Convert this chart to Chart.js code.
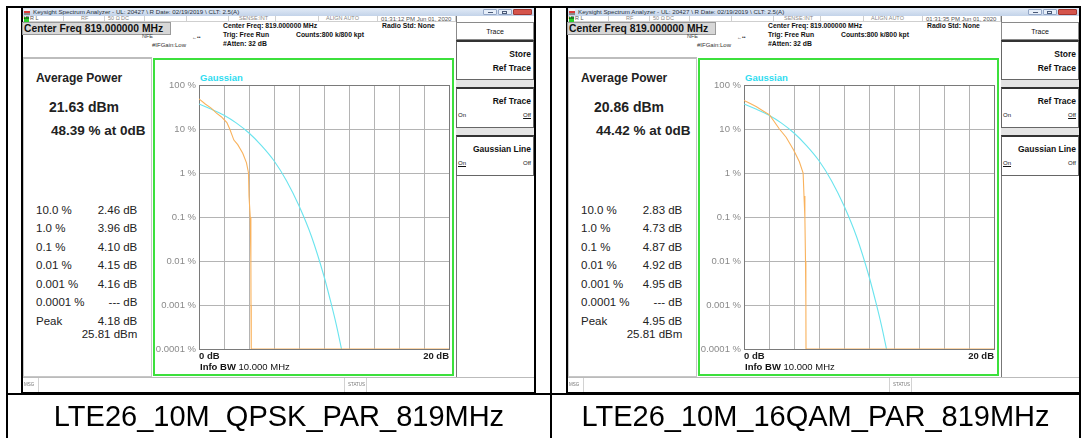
<!DOCTYPE html>
<html>
<head>
<meta charset="utf-8">
<title>CCDF</title>
<script src="https://cdn.jsdelivr.net/npm/chart.js@4.4.1/dist/chart.umd.min.js"></script>
<style>
  html, body { margin: 0; padding: 0; }
  body { width: 1088px; height: 438px; overflow: hidden; background: #fff; position: relative;
         font-family: "Liberation Sans", Arial, sans-serif; color: #111; }
  .t { position: absolute; white-space: nowrap; line-height: 1; }
  .box { position: absolute; box-sizing: border-box; }
  .shot { position: absolute; top: 0; width: 515px; height: 395px; }
  .plot { position: absolute; left: 135px; top: 60px; width: 295px; height: 315px; }
  .cap { position: absolute; top: 395px; height: 42px; font-size: 29px; display: flex;
         align-items: center; justify-content: center; color: #000; }
</style>
</head>
<body>
<script>
// captions under each screenshot
const captions = ['LTE26_10M_QPSK_PAR_819MHz', 'LTE26_10M_16QAM_PAR_819MHz'];
const timestamps = ['01:31:12 PM Jun 01, 2020', '01:31:35 PM Jun 01, 2020'];

// readouts on the left panel
const avgPower = ['21.63 dBm', '20.86 dBm'];
const pctAtZero = ['48.39 % at 0dB', '44.42 % at 0dB'];
const levelLabels = ['10.0 %', '1.0 %', '0.1 %', '0.01 %', '0.001 %', '0.0001 %'];
const qpskLevels = ['2.46 dB', '3.96 dB', '4.10 dB', '4.15 dB', '4.16 dB', '--- dB'];
const qamLevels = ['2.83 dB', '4.73 dB', '4.87 dB', '4.92 dB', '4.95 dB', '--- dB'];
const peakDb = ['4.18 dB', '4.95 dB'];
const peakDbm = ['25.81 dBm', '25.81 dBm'];

// axis ticks
const yTickValues = [0.0001, 0.001, 0.01, 0.1, 1, 10, 100];
const yTickLabels = ['0.0001 %', '0.001 %', '0.01 %', '0.1 %', '1 %', '10 %', '100 %'];

// traces (x in dB above average, y in %)
const gaussDb  = [0, 1, 2, 3, 4, 5, 6, 7, 8, 9, 10, 10.5, 11, 11.4];
const gaussPct = [37, 28, 20.5, 13.6, 8.1, 4.2, 1.9, 0.67, 0.18, 0.036, 0.0045, 0.0013, 0.00034, 0.0001];

const qpskDb  = [0, 0.5, 1.0, 1.4, 1.78, 2.23, 2.46, 2.79, 3.1, 3.5, 3.8, 3.96, 4.0, 4.10, 4.15, 4.16, 4.18, 20];
const qpskPct = [48.4, 37, 29.5, 23, 19, 14, 10, 5.6, 4.4, 2.8, 1.7, 1.0, 0.3, 0.1, 0.01, 0.001, 0.0001, 0.0001];

const qamDb  = [0, 0.5, 1.0, 1.5, 2.04, 2.4, 2.83, 3.37, 3.98, 4.43, 4.73, 4.80, 4.87, 4.92, 4.95, 4.96, 20];
const qamPct = [44.4, 38, 32, 26, 21, 15, 10, 6.5, 3.3, 1.8, 1.0, 0.3, 0.1, 0.01, 0.001, 0.0001, 0.0001];

const traceDb = [qpskDb, qamDb];
const tracePct = [qpskPct, qamPct];
const levelValues = [qpskLevels, qamLevels];

const shotLeft = [21, 566];
const orange = '#f9b25c';
const cyan = '#6ae4ee';

function T(x, y, s, css, a) {
  const tx = a === 'r' ? '-100%' : a === 'c' ? '-50%' : '0';
  return '<div class="t" style="left:' + x + 'px;top:' + y + 'px;transform:translate(' + tx + ',-50%);' + (css || '') + '">' + s + '</div>';
}
function B(x, y, w, h, css) {
  return '<div class="box" style="left:' + x + 'px;top:' + y + 'px;width:' + w + 'px;height:' + h + 'px;' + (css || '') + '"></div>';
}

function buildShot(i) {
  let h = '';
  h += B(0, 6, 515, 388, 'border:2px solid #000;background:#fff');
  // title bar
  h += B(2, 8, 511, 8, 'background:linear-gradient(#e2ebf7,#c3d3e9)');
  h += B(3, 9, 6, 6, 'background:linear-gradient(#f4f4f4 0 35%,#d83a3a 35% 70%,#8a8a8a 70%)');
  h += T(12, 12.2, 'Keysight Spectrum Analyzer - UL: 20427 \\ R Date: 02/19/2019 \\ CLT: 2.5(A)', 'font-size:6.2px;color:#2a3340');
  h += B(462, 9, 14, 6, 'background:#e6eef9;border:1px solid #93a6c6;border-radius:1px');
  h += B(467, 12, 5, 1, 'background:#4a5a78');
  h += B(477, 9, 14, 6, 'background:#e6eef9;border:1px solid #93a6c6;border-radius:1px');
  h += B(481, 10.5, 5, 3, 'border:1px solid #4a5a78');
  h += B(492, 9, 19, 6, 'background:#d5544c;border:1px solid #a03530;border-radius:1px');
  // status row
  h += B(2, 16, 433, 6, 'background:#fff;border-bottom:1px solid #cfcfcf');
  h += B(2.5, 16.5, 5, 5, 'background:#28d028');
  h += T(2.8, 19.2, 'LXI', 'font-size:3.3px;font-weight:bold');
  h += T(9, 19.2, 'R L', 'font-size:5.5px;color:#555');
  h += T(60, 19.2, 'RF', 'font-size:5.5px;color:#888');
  h += T(87, 19.2, '50 &Omega;', 'font-size:5.5px;color:#888');
  h += T(100, 19.2, 'DC', 'font-size:5.5px;color:#888');
  h += T(218, 19.2, 'SENSE:INT', 'font-size:5.5px;color:#888');
  h += T(305, 19.2, 'ALIGN AUTO', 'font-size:5.5px;color:#888');
  h += T(360, 19.2, timestamps[i], 'font-size:6px;color:#555');
  [42, 83, 123, 165, 207, 254, 297, 356, 434].forEach(function (x) { h += B(x, 16, 1, 6, 'background:#cfcfcf'); });
  // measurement header
  h += B(1, 22, 149, 13, 'background:#d7d7d7;border:1px solid #9a9a9a');
  h += T(3, 28.5, 'Center Freq 819.000000 MHz', 'font-size:10.3px;font-weight:bold');
  h += T(202, 26.3, 'Center Freq: 819.000000 MHz', 'font-size:6.8px;font-weight:bold');
  h += T(361, 26.3, 'Radio Std: None', 'font-size:6.8px;font-weight:bold');
  h += T(202, 35, 'Trig: Free Run', 'font-size:6.8px;font-weight:bold');
  h += T(275, 35, 'Counts:800 k/800 kpt', 'font-size:6.8px;font-weight:bold');
  h += T(202, 43.5, '#Atten: 32 dB', 'font-size:6.8px;font-weight:bold');
  h += T(121, 37, 'NFE', 'font-size:5.5px;color:#444');
  h += T(171, 37, '&#8592;&#8226;&#8226;', 'font-size:5px;color:#333');
  h += T(131, 44.5, '#IFGain:Low', 'font-size:6px;color:#333');
  // softkeys
  h += B(435, 16, 78, 362, 'background:#fff;border-left:1px solid #777;border-bottom:1px solid #999');
  h += B(435, 22, 78, 18, 'border:1px solid #8a8a8a;background:#fff');
  h += T(474, 30.5, 'Trace', 'font-size:7px', 'c');
  h += B(435, 40, 78, 40, 'border:1px solid #666;border-top:2px solid #333;background:#fff');
  h += T(510, 54.3, 'Store', 'font-size:8.5px;font-weight:bold', 'r');
  h += T(510, 67.7, 'Ref Trace', 'font-size:8.5px;font-weight:bold', 'r');
  h += B(435, 80, 78, 7, 'background:#e4e4e4');
  h += B(435, 87, 78, 41, 'border:1px solid #666;border-top:2px solid #333;background:#fff');
  h += T(510, 101, 'Ref Trace', 'font-size:8.5px;font-weight:bold', 'r');
  h += T(437, 115, 'On', 'font-size:6px');
  h += T(510, 115, '<u>Off</u>', 'font-size:6px', 'r');
  h += B(435, 128, 78, 7, 'background:#e4e4e4');
  h += B(435, 135, 78, 41, 'border:1px solid #666;border-top:2px solid #333;background:#fff');
  h += T(510, 149, 'Gaussian Line', 'font-size:8.5px;font-weight:bold', 'r');
  h += T(437, 162.7, '<u>On</u>', 'font-size:6px');
  h += T(510, 162.7, 'Off', 'font-size:6px', 'r');
  // left readout panel
  h += B(1.5, 57, 129, 320, 'border:1px solid #c6c6c6;border-top:2px solid #bdbdbd');
  h += T(15, 77.7, 'Average Power', 'font-size:12px;font-weight:bold;color:#222');
  h += T(28, 107, avgPower[i], 'font-size:14px;font-weight:bold;color:#222');
  h += T(30, 131, pctAtZero[i], 'font-size:13.5px;font-weight:bold;color:#222');
  const rowY = [210.7, 229, 247.7, 266.3, 284.7, 303.3];
  levelLabels.forEach(function (lab, k) {
    h += T(15, rowY[k], lab, 'font-size:11.5px;color:#222');
    h += T(116.3, rowY[k], levelValues[i][k], 'font-size:11.5px;color:#222', 'r');
  });
  h += T(15, 321.7, 'Peak', 'font-size:11.5px;color:#222');
  h += T(116.3, 321.7, peakDb[i], 'font-size:11.5px;color:#222', 'r');
  h += T(116.3, 335, peakDbm[i], 'font-size:11.5px;color:#222', 'r');
  // green chart frame
  h += B(132, 58, 301, 318, 'border:2px solid #3ce03c');
  h += T(179, 77.7, 'Gaussian', 'font-size:9.5px;font-weight:bold;color:#30dcf0');
  h += '<div class="plot"><canvas></canvas></div>';
  h += T(179, 366.7, '<b>Info BW</b> 10.000 MHz', 'font-size:9.5px;color:#111');
  // message bar
  h += B(2, 377, 511, 15, 'border-top:1px solid #bbb;background:#fff');
  h += T(3, 384.5, 'MSG', 'font-size:4.5px;color:#777');
  h += B(17, 378, 1, 14, 'background:#d2d2d2');
  h += B(323, 378, 1, 14, 'background:#d2d2d2');
  h += T(327, 384.5, 'STATUS', 'font-size:4.5px;color:#777');
  h += B(345, 378, 1, 14, 'background:#d2d2d2');
  return h;
}

// table lines
let lines = '';
lines += B(6, 6, 1075, 2, 'background:#000');
lines += B(6, 6, 2, 432, 'background:#000');
lines += B(550, 6, 2, 432, 'background:#000');
lines += B(1079, 6, 2, 432, 'background:#000');
lines += B(6, 393, 1075, 2, 'background:#000');
document.body.insertAdjacentHTML('beforeend', lines);

Chart.defaults.font.family = '"Liberation Sans", Arial, sans-serif';

function makeChart(canvas, i) {
  return new Chart(canvas, {
    type: 'line',
    data: {
      datasets: [
        {
          label: 'Trace',
          data: traceDb[i].map(function (x, k) { return { x: x, y: tracePct[i][k] }; }),
          borderColor: orange,
          borderWidth: 1.1,
          pointRadius: 0,
          tension: 0
        },
        {
          label: 'Gaussian',
          data: gaussDb.map(function (x, k) { return { x: x, y: gaussPct[k] }; }),
          borderColor: cyan,
          borderWidth: 1.1,
          pointRadius: 0,
          cubicInterpolationMode: 'monotone'
        }
      ]
    },
    options: {
      responsive: true,
      maintainAspectRatio: false,
      animation: false,
      events: [],
      layout: { padding: { top: 25, right: 0, bottom: 0, left: 0 } },
      plugins: { legend: { display: false }, tooltip: { enabled: false } },
      scales: {
        x: {
          type: 'linear',
          min: 0,
          max: 20,
          grid: {
            drawTicks: false,
            color: function (ctx) { return ctx.tick && ctx.tick.value === 20 ? '#7a7a7a' : '#b4b4b4'; }
          },
          border: { color: '#7a7a7a' },
          ticks: {
            stepSize: 2,
            autoSkip: false,
            maxRotation: 0,
            align: 'inner',
            padding: 2,
            color: '#1a1a1a',
            font: { size: 9.5, weight: 'bold' },
            callback: function (v) { return v === 0 ? '0 dB' : v === 20 ? '20 dB' : ''; }
          },
          afterFit: function (s) { s.height = 26; }
        },
        y: {
          type: 'logarithmic',
          min: 0.0001,
          max: 100,
          afterBuildTicks: function (s) { s.ticks = yTickValues.map(function (v) { return { value: v }; }); },
          grid: {
            drawTicks: false,
            color: function (ctx) { return ctx.tick && ctx.tick.value === 100 ? '#7a7a7a' : '#b4b4b4'; }
          },
          border: { color: '#7a7a7a' },
          ticks: {
            padding: 3,
            color: '#8a8a8a',
            font: { size: 9.5 },
            callback: function (v) { return yTickLabels[yTickValues.indexOf(v)]; }
          },
          afterFit: function (s) { s.width = 43; }
        }
      }
    }
  });
}

const charts = [];
[0, 1].forEach(function (i) {
  const el = document.createElement('div');
  el.className = 'shot';
  el.style.left = shotLeft[i] + 'px';
  el.innerHTML = buildShot(i);
  document.body.appendChild(el);
  charts.push(makeChart(el.querySelector('canvas'), i));
});

// captions
const capCells = [[8, 542], [552, 527]];
capCells.forEach(function (c, i) {
  const d = document.createElement('div');
  d.className = 'cap';
  d.style.left = c[0] + 'px';
  d.style.width = c[1] + 'px';
  d.textContent = captions[i];
  document.body.appendChild(d);
});
</script>
</body>
</html>
